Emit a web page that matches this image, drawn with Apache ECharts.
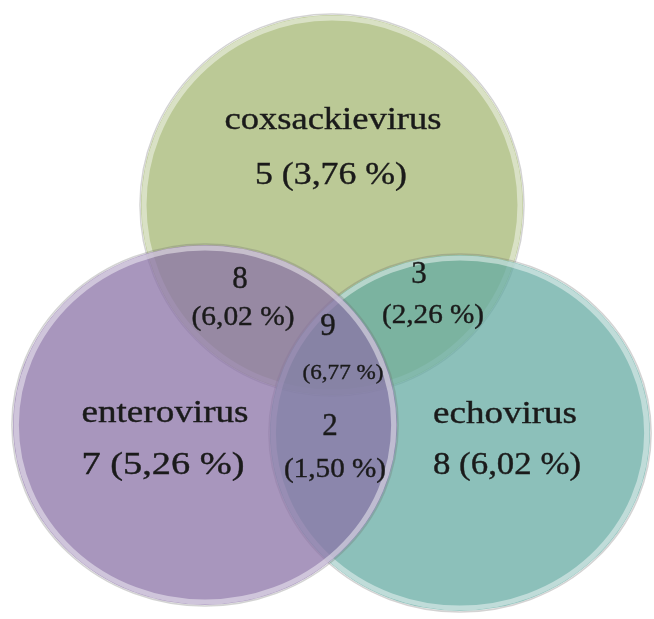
<!DOCTYPE html>
<html>
<head>
<meta charset="utf-8">
<script src="https://cdn.jsdelivr.net/npm/echarts@6/dist/echarts.min.js"></script>
<style>
html,body{margin:0;padding:0;background:#fff;}
#chart{width:654px;height:619px;}
</style>
</head>
<body>
<div id="chart"></div>
<script>
// ---- data ----
const setNames = ['coxsackievirus', 'enterovirus', 'echovirus'];
// regions: C only, En only, Ec only, C∩En, C∩Ec, En∩Ec, C∩En∩Ec
const regionKeys = ['C', 'En', 'Ec', 'C_En', 'C_Ec', 'En_Ec', 'C_En_Ec'];
const regionCounts = [5, 7, 8, 8, 3, 2, 9];
const regionPercents = ['3,76', '5,26', '6,02', '6,02', '2,26', '1,50', '6,77'];

// ---- layout (geometry & style, in canvas-pixel units of the hidden axes) ----
const circleLayout = [
  { cx: 332, cy: 205, rx: 191, ry: 190, fill: 'rgb(187,201,150)' },
  { cx: 205, cy: 425, rx: 192, ry: 180, fill: 'rgba(139,115,167,0.75)' },
  { cx: 460, cy: 433, rx: 190, ry: 178, fill: 'rgba(102,171,163,0.75)' }
];
const drawOrder = [0, 2, 1];

// single-set labels: [x, y, width]
const setLabelLayout = [
  { name: [333, 121, 217], count: [331, 176, 152] },
  { name: [165, 414, 167], count: [163, 466, 163] },
  { name: [505, 415, 144], count: [507, 466, 148] }
];
// intersection labels: [count x, y, fontSize], [pct x, y, width, fontSize]
const interLabelLayout = {
  3: { count: [240, 280, 31], pct: [243, 318, 103, 27] },
  4: { count: [419, 275, 31], pct: [433, 316, 102, 27] },
  5: { count: [330, 427, 31], pct: [335, 470, 102, 27] },
  6: { count: [328, 327, 31], pct: [343, 373, 81, 22] }
};
const MAIN_FONT_SIZE = 32;

const FONT_FAMILY = '"Liberation Serif", "Times New Roman", serif';
const TEXT_COLOR = '#1a1a1a';
const measureCtx = document.createElement('canvas').getContext('2d');
function fontStr(size) { return size + 'px ' + FONT_FAMILY; }
function scaleFor(text, size, width) {
  if (!width) return 1;
  measureCtx.font = fontStr(size);
  const w = measureCtx.measureText(text).width;
  return w > 0 ? width / w : 1;
}

const labelItems = [];
setNames.forEach(function (name, i) {
  const L = setLabelLayout[i];
  labelItems.push({ text: name, x: L.name[0], y: L.name[1], w: L.name[2], size: MAIN_FONT_SIZE });
  labelItems.push({ text: regionCounts[i] + ' (' + regionPercents[i] + ' %)', x: L.count[0], y: L.count[1], w: L.count[2], size: MAIN_FONT_SIZE });
});
Object.keys(interLabelLayout).forEach(function (k) {
  const idx = +k;
  const L = interLabelLayout[k];
  labelItems.push({ text: String(regionCounts[idx]), x: L.count[0], y: L.count[1], w: 0, size: L.count[2] });
  labelItems.push({ text: '(' + regionPercents[idx] + ' %)', x: L.pct[0], y: L.pct[1], w: L.pct[2], size: L.pct[3] });
});

const chart = echarts.init(document.getElementById('chart'), null, { renderer: 'canvas' });

const option = {
  backgroundColor: '#ffffff',
  animation: false,
  grid: { left: 0, right: 0, top: 0, bottom: 0 },
  xAxis: { type: 'value', min: 0, max: 654, show: false },
  yAxis: { type: 'value', min: 0, max: 619, inverse: true, show: false },
  series: [
    {
      type: 'custom',
      coordinateSystem: 'cartesian2d',
      data: drawOrder.map(function (i) { return [circleLayout[i].cx, circleLayout[i].cy, i]; }),
      renderItem: function (params, api) {
        const i = api.value(2);
        const c = circleLayout[i];
        const p = api.coord([c.cx, c.cy]);
        const ry = api.size([0, c.ry])[1];
        const rx = api.size([c.rx, 0])[0];
        const sx = rx / ry;
        return {
          type: 'group',
          children: [
            { type: 'circle', x: p[0], y: p[1], scaleX: sx,
              shape: { cx: 0, cy: 0, r: ry + 1 },
              style: { fill: 'none', stroke: 'rgba(110,110,110,0.3)', lineWidth: 1.5 } },
            { type: 'circle', x: p[0], y: p[1], scaleX: sx,
              shape: { cx: 0, cy: 0, r: ry },
              style: { fill: c.fill, stroke: null } },
            { type: 'circle', x: p[0], y: p[1], scaleX: sx,
              shape: { cx: 0, cy: 0, r: ry - 3 },
              style: { fill: 'none', stroke: 'rgba(255,255,255,0.45)', lineWidth: 5 } }
          ]
        };
      },
      silent: true,
      z: 1
    },
    {
      type: 'custom',
      coordinateSystem: 'cartesian2d',
      data: labelItems.map(function (d, j) { return [d.x, d.y, j]; }),
      renderItem: function (params, api) {
        const d = labelItems[api.value(2)];
        const p = api.coord([d.x, d.y]);
        return {
          type: 'text',
          x: p[0], y: p[1],
          scaleX: scaleFor(d.text, d.size, d.w),
          style: {
            text: d.text,
            font: fontStr(d.size),
            fill: TEXT_COLOR,
            stroke: TEXT_COLOR,
            lineWidth: 0.4,
            align: 'center',
            verticalAlign: 'middle'
          }
        };
      },
      silent: true,
      z: 5
    }
  ]
};
chart.setOption(option);
</script>
</body>
</html>
